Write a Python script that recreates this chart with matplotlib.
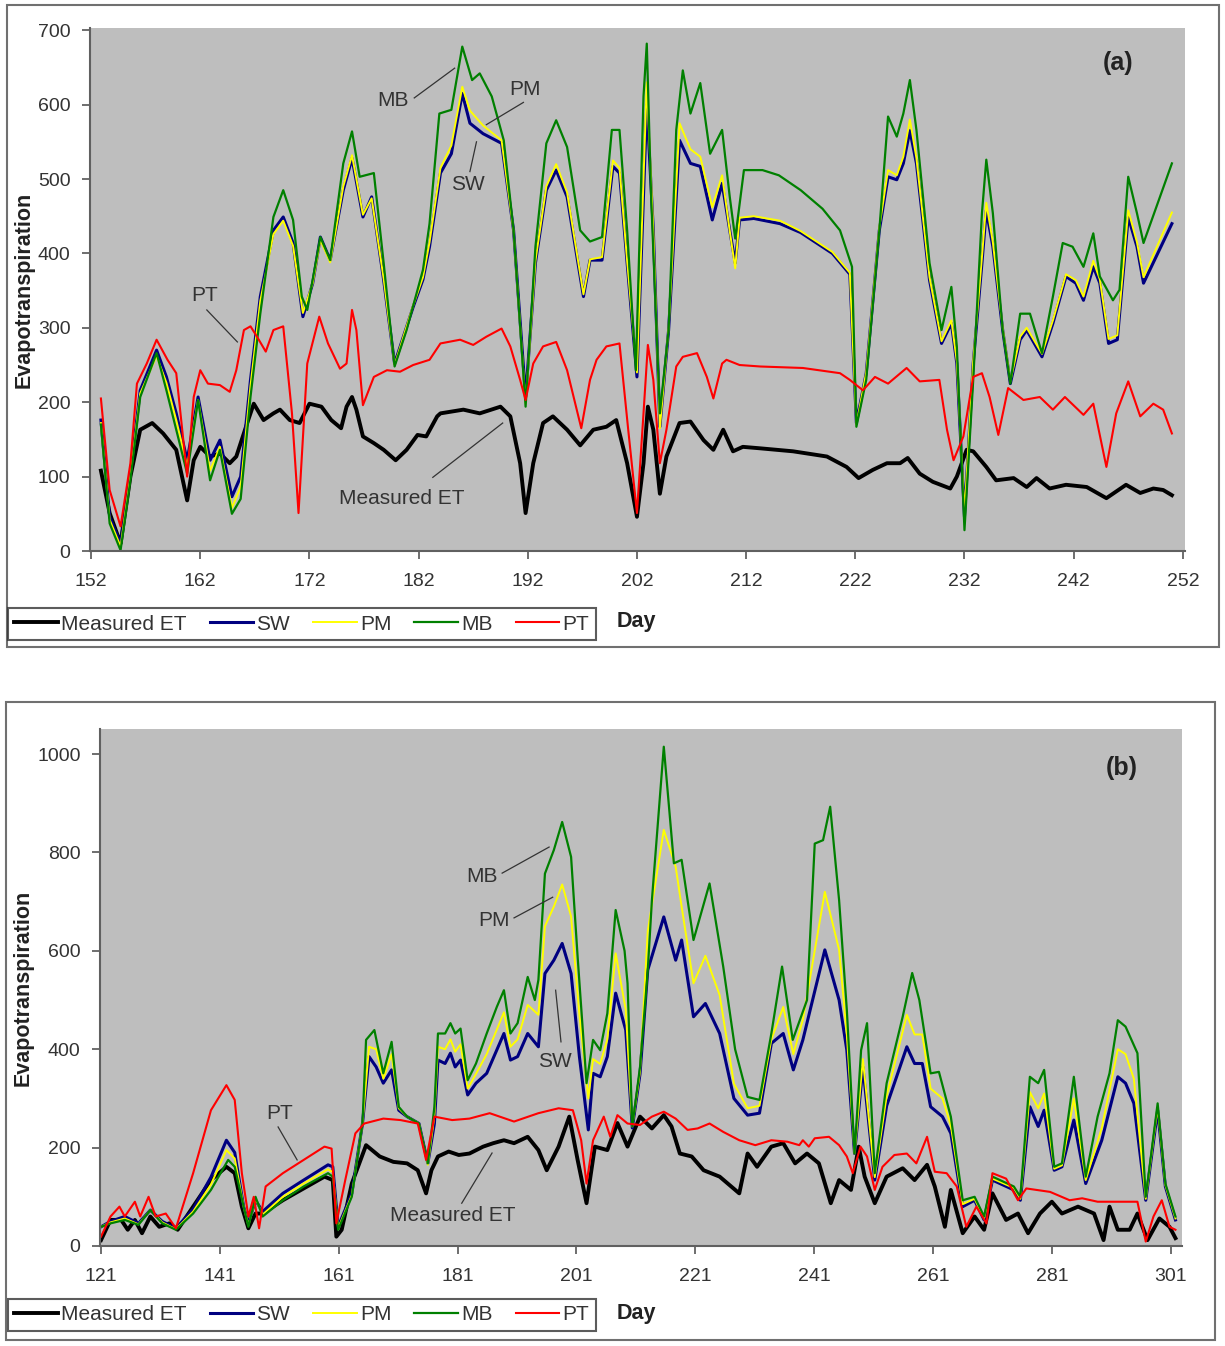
import matplotlib.pyplot as plt
from matplotlib.lines import Line2D
from matplotlib.patches import Rectangle

plt.rcParams['font.family'] = ['Liberation Sans', 'DejaVu Sans']

# ---------------------------------------------------------------
# panel (a): (day, evapotranspiration)
# ---------------------------------------------------------------
a_measured = [
    (152.9, 108), (153.7, 51), (154.7, 10), (155.6, 100), (156.5, 163), (157.6, 172),
    (158.6, 158), (159.8, 136), (160.8, 68), (161.4, 122), (162.0, 140), (162.9, 127),
    (163.8, 131), (164.7, 118), (165.3, 127), (166.3, 172), (166.9, 198), (167.8, 176),
    (168.7, 185), (169.3, 190), (170.2, 176), (171.1, 172), (172.0, 198), (173.1, 194),
    (174.0, 176), (174.9, 165), (175.4, 194), (175.9, 207), (176.3, 190), (176.9, 154),
    (177.9, 145), (178.8, 136), (179.9, 122), (180.9, 136), (181.9, 156), (182.7, 154),
    (183.7, 181), (184.0, 185), (186.1, 190), (187.6, 185), (189.5, 194), (190.4, 181),
    (191.3, 118), (191.8, 51), (192.5, 118), (193.4, 172), (194.3, 181), (195.6, 163),
    (196.8, 142), (198.0, 163), (199.2, 167), (200.1, 176), (201.1, 118), (202.0, 46),
    (202.6, 118), (203.0, 194), (203.5, 163), (204.1, 77), (204.7, 127), (205.9, 172),
    (206.9, 174), (208.1, 149), (209.0, 136), (209.9, 163), (210.8, 134), (211.7, 140),
    (213.3, 138), (216.3, 134), (219.4, 127), (221.2, 113), (222.3, 98), (223.6, 109),
    (224.9, 118), (226.1, 118), (226.8, 125), (227.9, 104), (229.1, 93), (230.7, 84),
    (231.3, 100), (232.2, 136), (232.8, 134), (234.0, 113), (234.9, 95), (236.5, 98),
    (237.7, 86), (238.6, 98), (239.8, 84), (241.3, 89), (243.2, 86), (245.0, 71),
    (246.8, 89), (248.1, 78), (249.3, 84), (250.2, 82), (251.0, 75),
]

a_sw = [
    (152.9, 176), (153.7, 46), (154.7, 10), (155.6, 104), (156.5, 216), (158.0, 270),
    (158.9, 234), (159.8, 185), (160.8, 122), (161.8, 207), (162.9, 122), (163.8, 149),
    (164.9, 73), (165.7, 100), (166.6, 230), (167.5, 342), (168.7, 431), (169.6, 449),
    (170.5, 414), (171.4, 315), (172.3, 360), (173.0, 422), (173.9, 391), (175.1, 485),
    (175.9, 528), (176.9, 449), (177.7, 476), (178.8, 364), (179.8, 252), (181.5, 328),
    (182.4, 365), (183.0, 409), (184.0, 508), (185.0, 534), (186.0, 615), (186.7, 575),
    (187.9, 561), (189.6, 548), (190.7, 431), (191.8, 207), (192.7, 387), (193.7, 485),
    (194.6, 512), (195.6, 476), (197.1, 342), (197.7, 391), (198.8, 391), (199.8, 517),
    (200.4, 508), (201.1, 387), (202.0, 234), (202.9, 600), (203.5, 431), (204.1, 167),
    (204.9, 297), (205.9, 552), (206.9, 521), (207.8, 517), (208.9, 445), (209.8, 494),
    (210.5, 431), (211.0, 387), (211.4, 445), (212.7, 447), (215.1, 440), (217.0, 428),
    (219.9, 400), (221.5, 372), (222.1, 172), (223.0, 239), (224.2, 431), (225.0, 503),
    (225.8, 499), (226.4, 521), (227.0, 565), (227.6, 521), (228.8, 364), (229.9, 279),
    (230.8, 306), (231.3, 252), (232.0, 46), (232.8, 252), (233.6, 387), (234.0, 458),
    (234.6, 409), (235.5, 297), (236.2, 225), (237.1, 284), (237.7, 297), (239.1, 261),
    (240.1, 306), (241.3, 369), (242.2, 360), (242.9, 337), (243.8, 382), (244.4, 360),
    (245.2, 279), (246.0, 284), (247.0, 449), (247.8, 409), (248.4, 360), (251.0, 440),
]

a_pm = [
    (152.9, 172), (153.7, 42), (154.7, 6), (155.6, 100), (156.5, 212), (158.0, 262),
    (158.9, 226), (159.8, 176), (160.8, 114), (161.8, 203), (162.9, 108), (163.8, 140),
    (164.9, 58), (165.7, 86), (166.6, 222), (167.5, 336), (168.7, 426), (169.6, 444),
    (170.5, 410), (171.4, 320), (172.3, 360), (173.0, 418), (173.9, 388), (175.1, 490),
    (175.9, 532), (176.9, 452), (177.7, 474), (178.8, 366), (179.8, 250), (181.5, 330),
    (182.4, 368), (183.0, 415), (184.0, 515), (185.0, 545), (186.0, 624), (186.7, 592),
    (187.9, 572), (189.6, 552), (190.7, 430), (191.8, 198), (192.7, 390), (193.7, 490),
    (194.6, 520), (195.6, 482), (197.1, 345), (197.7, 392), (198.8, 395), (199.8, 525),
    (200.4, 515), (201.1, 390), (202.0, 240), (202.9, 630), (203.5, 430), (204.1, 165),
    (204.9, 300), (205.9, 575), (206.9, 540), (207.8, 530), (208.9, 462), (209.8, 505),
    (210.5, 430), (211.0, 380), (211.4, 448), (212.7, 450), (215.1, 444), (217.0, 430),
    (219.9, 402), (221.5, 374), (222.1, 170), (223.0, 240), (224.2, 435), (225.0, 512),
    (225.8, 505), (226.4, 530), (227.0, 580), (227.6, 528), (228.8, 368), (229.9, 282),
    (230.8, 310), (231.3, 255), (232.0, 50), (232.8, 255), (233.6, 395), (234.0, 468),
    (234.6, 415), (235.5, 300), (236.2, 228), (237.1, 288), (237.7, 300), (239.1, 265),
    (240.1, 310), (241.3, 372), (242.2, 364), (242.9, 342), (243.8, 390), (244.4, 365),
    (245.2, 285), (246.0, 290), (247.0, 458), (247.8, 415), (248.4, 368), (251.0, 455),
]

a_mb = [
    (152.9, 170), (153.7, 37), (154.7, 1), (155.6, 95), (156.5, 207), (158.0, 266),
    (158.9, 216), (159.8, 163), (160.8, 104), (161.8, 203), (162.9, 95), (163.8, 136),
    (164.9, 50), (165.7, 70), (166.6, 207), (167.5, 319), (168.7, 449), (169.6, 485),
    (170.5, 445), (171.3, 342), (171.8, 324), (173.0, 422), (173.9, 391), (175.1, 521),
    (175.9, 564), (176.6, 503), (177.9, 508), (178.8, 387), (179.8, 248), (180.9, 297),
    (182.4, 378), (183.0, 440), (183.9, 588), (185.0, 593), (186.0, 678), (186.9, 633),
    (187.6, 642), (188.7, 611), (189.8, 552), (190.7, 431), (191.8, 194), (192.7, 409),
    (193.7, 548), (194.6, 579), (195.6, 543), (196.8, 431), (197.7, 416), (198.8, 422),
    (199.7, 566), (200.4, 566), (201.1, 431), (201.9, 243), (202.6, 611), (202.9, 682),
    (203.3, 476), (204.1, 185), (204.9, 297), (205.6, 566), (206.2, 646), (206.9, 588),
    (207.8, 629), (208.7, 534), (209.8, 566), (210.5, 476), (211.0, 420), (211.8, 512),
    (213.5, 512), (215.0, 505), (217.0, 485), (219.0, 460), (220.6, 431), (221.7, 382),
    (222.1, 167), (223.0, 230), (224.2, 431), (225.0, 584), (225.8, 557), (226.4, 588),
    (227.0, 633), (227.6, 566), (228.8, 387), (229.9, 297), (230.8, 355), (231.3, 275),
    (232.0, 28), (232.8, 230), (233.6, 454), (234.0, 526), (234.6, 454), (235.5, 297),
    (236.2, 225), (237.1, 319), (238.0, 319), (239.1, 266), (240.1, 342), (241.0, 414),
    (241.9, 409), (242.9, 382), (243.8, 427), (244.4, 369), (245.6, 337), (246.2, 351),
    (247.0, 503), (247.8, 454), (248.4, 414), (251.0, 521),
]

a_pt = [
    (152.9, 205), (153.7, 82), (154.7, 33), (155.6, 118), (156.2, 225), (157.1, 252),
    (158.0, 284), (159.0, 257), (159.8, 239), (160.8, 100), (161.4, 207), (162.0, 243),
    (162.7, 225), (163.8, 223), (164.7, 214), (165.3, 243), (166.0, 297), (166.6, 302),
    (167.2, 288), (168.0, 268), (168.7, 297), (169.6, 302), (170.4, 185), (171.0, 51),
    (171.8, 252), (172.9, 315), (173.7, 279), (174.8, 245), (175.4, 252), (175.9, 324),
    (176.3, 297), (176.9, 196), (177.9, 234), (179.1, 243), (180.3, 241), (181.5, 250),
    (183.0, 257), (184.0, 279), (185.8, 284), (187.0, 277), (188.2, 288), (189.6, 299),
    (190.4, 275), (191.3, 230), (191.8, 203), (192.5, 252), (193.4, 275), (194.6, 281),
    (195.6, 243), (196.9, 165), (197.7, 230), (198.3, 257), (199.2, 275), (200.4, 279),
    (201.2, 163), (202.0, 51), (202.6, 185), (203.0, 277), (203.5, 230), (204.1, 118),
    (204.7, 163), (205.6, 248), (206.2, 261), (207.5, 266), (208.4, 234), (209.0, 205),
    (209.8, 252), (210.2, 257), (211.4, 250), (213.3, 248), (217.2, 246), (220.6, 239),
    (221.5, 230), (222.7, 216), (223.8, 234), (225.0, 225), (226.7, 246), (227.9, 228),
    (229.7, 230), (230.4, 163), (231.0, 122), (231.9, 154), (232.8, 234), (233.6, 239),
    (234.3, 207), (235.1, 156), (236.0, 219), (237.4, 203), (238.9, 207), (240.1, 190),
    (241.2, 207), (242.9, 183), (243.8, 198), (245.0, 113), (245.9, 185), (247.0, 228),
    (248.1, 181), (249.3, 198), (250.2, 190), (251.0, 158),
]

# ---------------------------------------------------------------
# panel (b)
# ---------------------------------------------------------------
b_measured = [
    (121.0, 12), (122.6, 53), (124.4, 53), (125.5, 33), (126.7, 53), (127.9, 26),
    (129.3, 60), (130.8, 39), (132.5, 46), (133.9, 33), (136.5, 80), (139.5, 134),
    (142.1, 161), (143.5, 148), (144.7, 80), (145.8, 36), (147.0, 66), (148.2, 66),
    (151.6, 93), (155.1, 117), (158.6, 141), (160.0, 134), (160.6, 19), (161.5, 33),
    (163.2, 127), (165.6, 205), (167.9, 182), (170.2, 171), (172.5, 168), (174.3, 154),
    (175.7, 107), (176.6, 154), (177.7, 182), (179.5, 192), (181.2, 185), (183.0, 188),
    (185.3, 202), (187.0, 209), (188.8, 215), (190.5, 209), (192.8, 222), (194.6, 195),
    (196.0, 154), (198.0, 202), (199.8, 263), (201.2, 175), (202.7, 87), (204.1, 202),
    (206.2, 195), (207.9, 250), (209.6, 202), (211.7, 263), (213.7, 239), (215.7, 266),
    (217.0, 243), (218.4, 188), (220.4, 182), (222.4, 154), (225.1, 141), (228.4, 107),
    (229.8, 188), (231.4, 161), (233.8, 202), (235.8, 209), (237.8, 168), (239.8, 188),
    (241.8, 168), (243.8, 87), (245.2, 134), (247.2, 114), (248.5, 202), (249.5, 141),
    (251.2, 87), (253.2, 141), (255.9, 158), (257.9, 134), (260.0, 165), (261.3, 121),
    (263.0, 39), (264.0, 114), (266.0, 26), (268.0, 60), (269.6, 33), (271.0, 107),
    (273.3, 53), (275.3, 66), (277.0, 26), (279.0, 66), (281.0, 90), (282.7, 66),
    (285.4, 80), (288.1, 66), (289.7, 12), (290.7, 80), (292.1, 33), (294.1, 33),
    (295.4, 66), (297.1, 12), (299.1, 56), (300.8, 39), (301.8, 16),
]

b_sw = [
    (121.0, 39), (122.6, 50), (125.0, 60), (127.3, 46), (129.3, 73), (131.3, 50),
    (133.6, 36), (136.5, 75), (139.5, 140), (142.1, 215), (143.5, 190), (145.0, 80),
    (145.8, 46), (147.0, 93), (148.2, 70), (151.6, 107), (155.1, 134), (159.2, 165),
    (160.0, 161), (160.9, 39), (163.2, 107), (165.0, 249), (166.1, 385), (167.3, 364),
    (168.5, 331), (169.9, 358), (171.1, 276), (172.5, 263), (174.5, 249), (176.0, 168),
    (177.1, 249), (177.7, 378), (178.9, 371), (179.8, 392), (180.6, 364), (181.5, 378),
    (182.7, 307), (184.1, 331), (185.9, 351), (188.8, 432), (189.9, 378), (191.1, 385),
    (192.8, 432), (194.6, 405), (195.7, 554), (197.2, 581), (198.6, 615), (200.1, 554),
    (201.5, 385), (203.0, 236), (203.8, 351), (205.0, 344), (206.2, 385), (207.6, 514),
    (209.3, 439), (210.4, 240), (211.7, 350), (213.0, 561), (215.7, 669), (217.7, 581),
    (218.7, 622), (220.7, 466), (222.7, 493), (225.1, 432), (227.5, 300), (229.8, 266),
    (231.8, 270), (233.8, 412), (235.8, 432), (237.5, 358), (239.1, 419), (242.8, 602),
    (245.2, 500), (246.5, 398), (247.8, 188), (249.2, 364), (251.2, 134), (253.2, 285),
    (256.6, 405), (257.9, 371), (259.2, 371), (260.6, 283), (262.6, 263), (264.0, 229),
    (266.0, 80), (268.0, 93), (269.6, 53), (271.0, 134), (274.6, 114), (275.7, 93),
    (277.3, 283), (278.7, 243), (279.7, 276), (281.4, 154), (282.7, 161), (284.7, 256),
    (286.7, 127), (289.4, 215), (292.1, 344), (293.4, 331), (294.8, 290), (296.8, 93),
    (298.8, 276), (300.1, 121), (301.8, 53),
]

b_pm = [
    (121.0, 39), (122.6, 48), (125.0, 56), (127.3, 44), (129.3, 73), (131.3, 48),
    (133.6, 34), (136.5, 70), (139.5, 125), (142.1, 195), (143.5, 178), (145.0, 80),
    (145.8, 42), (147.0, 96), (148.2, 64), (151.6, 100), (155.1, 127), (159.2, 156),
    (160.0, 150), (160.9, 36), (163.2, 103), (165.0, 249), (166.1, 405), (167.3, 400),
    (168.5, 340), (169.9, 390), (171.1, 280), (172.5, 263), (174.5, 249), (176.0, 165),
    (177.1, 265), (177.7, 405), (178.9, 400), (179.8, 420), (180.6, 395), (181.5, 410),
    (182.7, 320), (184.1, 350), (185.9, 390), (188.8, 475), (189.9, 405), (191.1, 420),
    (192.8, 490), (194.6, 470), (195.7, 650), (197.2, 690), (198.6, 735), (200.1, 670),
    (201.5, 470), (203.0, 300), (203.8, 380), (205.0, 370), (206.2, 420), (207.6, 595),
    (209.3, 480), (210.4, 243), (211.7, 355), (213.0, 640), (215.7, 846), (217.7, 771),
    (218.7, 690), (220.7, 534), (222.7, 590), (225.1, 510), (227.5, 330), (229.8, 280),
    (231.8, 285), (233.8, 420), (235.8, 486), (237.5, 390), (239.1, 460), (242.8, 720),
    (245.2, 602), (246.5, 430), (247.8, 188), (249.2, 380), (251.2, 140), (253.2, 305),
    (256.6, 470), (257.9, 430), (259.2, 430), (260.6, 320), (262.6, 300), (264.0, 245),
    (266.0, 85), (268.0, 96), (269.6, 56), (271.0, 137), (274.6, 118), (275.7, 96),
    (277.3, 313), (278.7, 280), (279.7, 310), (281.4, 157), (282.7, 164), (284.7, 300),
    (286.7, 134), (289.4, 240), (292.1, 400), (293.4, 390), (294.8, 340), (296.8, 96),
    (298.8, 283), (300.1, 124), (301.8, 56),
]

b_mb = [
    (121.0, 39), (122.6, 46), (125.0, 53), (127.3, 43), (129.3, 73), (131.3, 46),
    (133.6, 33), (136.5, 66), (139.5, 114), (142.4, 175), (143.5, 161), (145.0, 80),
    (145.8, 39), (147.0, 100), (148.2, 60), (151.6, 93), (155.1, 121), (159.2, 148),
    (160.0, 141), (160.9, 33), (163.2, 100), (165.0, 249), (165.6, 419), (167.0, 439),
    (168.5, 351), (169.9, 415), (171.1, 283), (172.5, 263), (174.5, 249), (176.0, 168),
    (177.1, 283), (177.7, 432), (178.9, 432), (179.8, 453), (180.6, 432), (181.5, 442),
    (182.7, 337), (184.1, 371), (185.9, 432), (187.6, 486), (188.8, 520), (189.9, 432),
    (191.1, 453), (192.8, 547), (194.0, 500), (194.6, 541), (195.7, 757), (197.2, 805),
    (198.6, 862), (200.1, 791), (201.2, 588), (202.7, 331), (203.8, 419), (205.0, 398),
    (206.2, 473), (207.6, 683), (209.1, 600), (209.6, 534), (210.4, 243), (211.7, 364),
    (213.0, 560), (213.7, 703), (215.7, 1015), (217.4, 778), (218.7, 785), (220.7, 622),
    (223.4, 737), (225.7, 568), (227.7, 400), (229.8, 303), (231.8, 297), (233.8, 432),
    (235.6, 568), (237.4, 419), (239.8, 500), (241.1, 818), (242.5, 825), (243.7, 893),
    (245.2, 703), (246.5, 480), (247.8, 188), (248.9, 398), (249.9, 453), (251.2, 148),
    (253.2, 331), (255.9, 466), (257.5, 555), (258.7, 500), (260.6, 351), (262.0, 354),
    (264.0, 263), (266.0, 93), (268.0, 100), (269.6, 60), (271.0, 141), (274.6, 121),
    (275.7, 100), (277.3, 344), (278.7, 331), (279.7, 358), (281.4, 161), (282.7, 168),
    (284.7, 344), (286.7, 141), (288.7, 263), (290.7, 351), (292.1, 459), (293.4, 446),
    (295.4, 392), (296.8, 100), (298.8, 290), (300.1, 127), (301.8, 60),
]

b_pt = [
    (121.0, 19), (122.6, 60), (124.1, 80), (125.0, 60), (126.7, 90), (127.6, 60),
    (129.0, 100), (130.2, 60), (131.9, 66), (133.6, 36), (136.5, 148), (139.5, 276),
    (142.1, 327), (143.5, 297), (144.7, 148), (145.8, 60), (146.7, 100), (147.6, 36),
    (148.7, 121), (151.6, 148), (155.1, 175), (158.6, 202), (159.8, 198), (160.6, 46),
    (162.1, 134), (163.8, 229), (165.3, 249), (168.5, 259), (171.4, 256), (174.3, 249),
    (175.7, 175), (177.1, 263), (180.1, 256), (183.0, 259), (186.4, 270), (190.5, 253),
    (194.6, 270), (198.0, 280), (200.4, 276), (201.8, 215), (202.7, 127), (203.8, 215),
    (205.6, 263), (206.7, 222), (207.9, 266), (209.6, 249), (211.7, 246), (213.7, 263),
    (215.7, 273), (217.7, 259), (219.7, 236), (221.4, 239), (223.4, 249), (225.7, 232),
    (228.4, 215), (231.1, 205), (233.8, 215), (236.5, 212), (238.5, 205), (239.1, 215),
    (240.1, 202), (241.1, 219), (243.5, 222), (245.2, 205), (246.5, 182), (247.5, 148),
    (248.8, 202), (249.9, 182), (251.2, 114), (252.5, 161), (254.5, 185), (256.6, 188),
    (258.2, 168), (260.0, 222), (261.3, 151), (263.3, 148), (265.0, 121), (266.6, 39),
    (268.3, 80), (270.0, 46), (271.0, 148), (273.3, 137), (275.3, 93), (276.7, 117),
    (280.7, 110), (284.0, 93), (286.1, 97), (288.7, 90), (292.1, 90), (295.4, 90),
    (296.8, 9), (298.1, 60), (299.5, 93), (300.8, 39), (301.8, 33),
]

labels = ['Measured ET', 'SW', 'PM', 'MB', 'PT']
colors = ['black', '#000080', '#FFFF00', '#008000', '#FF0000']
widths = [2.8, 2.2, 1.4, 1.6, 1.5]

a_xticks = list(range(152, 253, 10))
a_yticks = list(range(0, 701, 100))
b_xticks = list(range(121, 302, 20))
b_yticks = list(range(0, 1001, 200))

# annotations: label, text position, leader line start, leader line end
a_notes = [
    ('MB', (179.7, 606), (181.6, 609), (185.3, 649)),
    ('PM', (191.7, 621), (191.6, 603), (188.2, 573)),
    ('SW', (186.5, 492), (186.7, 510), (187.3, 550)),
    ('PT', (162.4, 344), (162.6, 324), (165.4, 281)),
    ('Measured ET', (180.5, 71), (183.3, 99), (189.7, 172)),
]
b_notes = [
    ('MB', (185.1, 752), (188.5, 758), (196.4, 811)),
    ('PM', (187.1, 661), (190.5, 667), (197.0, 709)),
    ('SW', (197.4, 376), (198.4, 415), (197.5, 520)),
    ('PT', (151.1, 270), (150.8, 242), (154.0, 175)),
    ('Measured ET', (180.2, 63), (181.7, 87), (186.8, 189)),
]

W, H = 1225, 1346
fig = plt.figure(figsize=(W / 100, H / 100), dpi=100)
fig.patch.set_facecolor('white')


def px_axes(left, top, right, bottom):
    return fig.add_axes([left / W, 1 - bottom / H, (right - left) / W, (bottom - top) / H])


def draw_panel(ax, series, xticks, yticks, xlim, ylim, notes, tag, tag_pos):
    ax.set_facecolor('#BEBEBE')
    for data, lab, col, lw in zip(series, labels, colors, widths):
        days, vals = zip(*data)
        ax.plot(days, vals, color=col, lw=lw, label=lab, solid_joinstyle='round')
    ax.set_xlim(*xlim)
    ax.set_ylim(*ylim)
    ax.set_xticks(xticks)
    ax.set_yticks(yticks)
    ax.tick_params(axis='both', direction='out', colors='#555555', labelcolor='#333333',
                   labelsize=14, length=6, width=1.2)
    ax.tick_params(axis='x', pad=10)
    ax.tick_params(axis='y', pad=8)
    for s in ['top', 'right']:
        ax.spines[s].set_visible(False)
    for s in ['left', 'bottom']:
        ax.spines[s].set_color('#606060')
        ax.spines[s].set_linewidth(1.5)
    ax.set_ylabel('Evapotranspiration', fontsize=15.5, fontweight='bold', color='#222222')
    for lab, txt, p0, p1 in notes:
        ax.plot([p0[0], p1[0]], [p0[1], p1[1]], color='#333333', lw=0.9)
        ax.text(txt[0], txt[1], lab, fontsize=15, color='#333333', ha='center', va='center')
    ax.text(tag_pos[0], tag_pos[1], tag, transform=ax.transAxes, fontsize=18,
            fontweight='bold', color='#222222', ha='center', va='center')


# panel (a)
ax_a = px_axes(90, 28, 1185, 551)
draw_panel(ax_a, [a_measured, a_sw, a_pm, a_mb, a_pt], a_xticks, a_yticks,
           (151.9, 252.2), (0, 703), a_notes, '(a)', (0.939, 0.933))
ax_a.yaxis.set_label_coords(-0.051, 0.5)

# panel (b)
ax_b = px_axes(100, 729, 1182, 1246)
draw_panel(ax_b, [b_measured, b_sw, b_pm, b_mb, b_pt], b_xticks, b_yticks,
           (120.83, 302.9), (0, 1051), b_notes, '(b)', (0.9445, 0.9246))
ax_b.yaxis.set_label_coords(-0.061, 0.5)

# outer panel frames
for x0, y0, x1, y1 in [(7, 5, 1219, 647), (6, 702, 1215, 1340)]:
    fig.add_artist(Rectangle((x0 / W, 1 - y1 / H), (x1 - x0) / W, (y1 - y0) / H,
                             transform=fig.transFigure, fill=False,
                             edgecolor='#707070', lw=1.5))

# legends and "Day" labels under each panel
handles = [Line2D([], [], color=c, lw=lw) for c, lw in zip(colors, widths)]
for cy in [624, 1315]:
    leg = fig.legend(handles, labels, loc='center left', bbox_to_anchor=(8 / W, 1 - cy / H),
                     ncol=5, frameon=True, fancybox=False, edgecolor='#333333',
                     fontsize=15, handlelength=2.1, handletextpad=0.15,
                     columnspacing=1.1, borderpad=0.3, borderaxespad=0)
    leg.get_frame().set_linewidth(1.5)
    for t in leg.get_texts():
        t.set_color('#333333')
    fig.text(636 / W, 1 - (cy - 2) / H, 'Day', fontsize=15.5, fontweight='bold',
             color='#222222', ha='center', va='center')

fig.savefig('out.png', dpi=100)
